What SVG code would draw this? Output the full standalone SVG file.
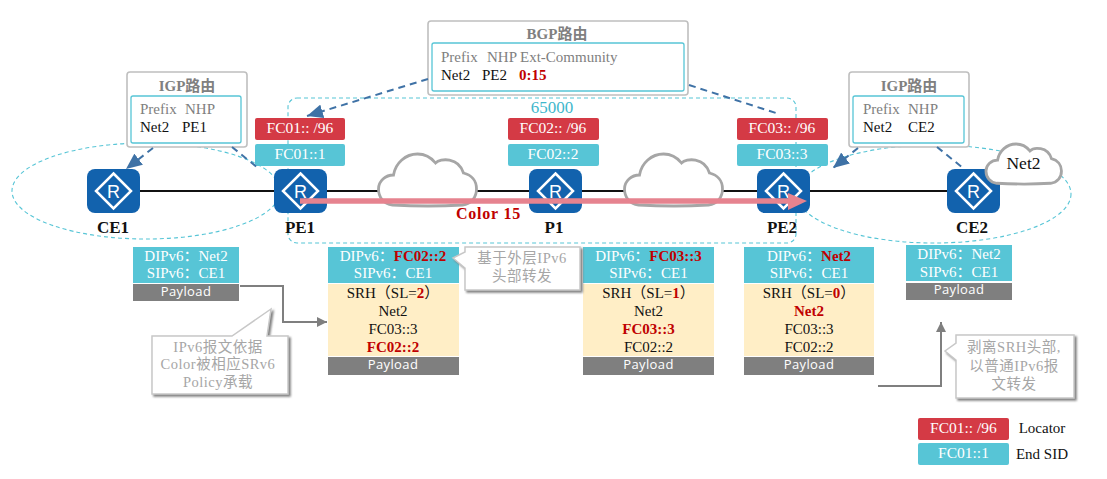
<svg xmlns="http://www.w3.org/2000/svg" xmlns:xlink="http://www.w3.org/1999/xlink" width="1107" height="479" viewBox="0 0 1107 479">
<style>
text{font-family:"Liberation Serif","Noto Sans CJK SC",serif;font-size:15px;text-anchor:middle;fill:#111}
.s{text-anchor:start}
.b{font-weight:bold}
.w{fill:#fff}
.chip{font-size:15.500px}
.g{fill:#808080}
.r{fill:#c00000;font-weight:bold}
.c{fill:#a6a6a6;font-size:14.500px;letter-spacing:.5px}
.pay{font-family:"Open Sans","Noto Sans",sans-serif;font-size:13px;fill:#fff;letter-spacing:.4px}
.lab{font-weight:bold;font-size:17px}
.red{fill:#d43a45}
.teal{fill:#57c5d6}
.cream{fill:#ffeec6}
.payb{fill:#7f7f7f}
.outer{fill:#fff;stroke:#bfbfbf;stroke-width:1.6}
.inner{fill:#fff;stroke:#57c5d6;stroke-width:1.3}
.tdash{fill:none;stroke:#57c5d6;stroke-width:1.1;stroke-dasharray:4 3}
.bdash{fill:none;stroke:#3f72a6;stroke-width:2;stroke-dasharray:7 5}
.call{fill:#fff;stroke:#c8c8c8;stroke-width:1.5;filter:url(#sh)}
.cloud{fill:#fff;stroke:#a6a6a6;stroke-width:2.800;vector-effect:non-scaling-stroke}
.elbow{fill:none;stroke:#7f7f7f;stroke-width:2}
</style>
<defs>
<filter id="sh" x="-10%" y="-10%" width="125%" height="125%"><feDropShadow dx="2" dy="2" stdDeviation="0.8" flood-color="#7f7f7f"/></filter>
<marker id="ah" markerUnits="userSpaceOnUse" markerWidth="18" markerHeight="14" refX="16" refY="7" orient="auto"><path d="M0 0L16 7L0 14Z" fill="#3f72a6"/></marker>
<marker id="ag" markerUnits="userSpaceOnUse" markerWidth="12" markerHeight="10" refX="10" refY="5" orient="auto"><path d="M0 0L10 5L0 10Z" fill="#7f7f7f"/></marker>
<g id="rt"><rect width="53" height="44" rx="8" fill="#1262ad"/><path d="M26.500 4.500L44 22L26.500 39.500L9 22Z" fill="none" stroke="#fff" stroke-width="2.5"/><text x="26.500" y="28.500" style="font-family:'Liberation Sans',sans-serif;font-size:18px;fill:#fff">R</text></g>
<path id="cl" class="cloud" d="M14 51C5 50 0 43 0 35C0 27 7 21 15 21C17 9 27 0 39 0C47 0 53 4 57 9C62 4 80 3 85 19C93 21 98 27 98 35C98 43 93 50 84 51Q50 53 14 51Z"/>
</defs>

<g id="areas">
<ellipse class="tdash" cx="146" cy="191" rx="134" ry="48"/>
<ellipse class="tdash" cx="934" cy="194" rx="137" ry="49"/>
<rect class="tdash" x="288" y="98" width="508" height="145" rx="9"/>
<text x="552" y="113" style="font-size:17px;fill:#3fb7cc">65000</text>
</g>

<g id="connectors">
<path d="M140 191H947" fill="none" stroke="#111" stroke-width="1.800"/>
</g>

<g id="cloud1"><use xlink:href="#cl" transform="translate(378.500 154)"/></g>
<g id="cloud2"><use xlink:href="#cl" transform="translate(624.500 154)"/></g>

<g id="igp1">
<rect class="outer" x="127" y="72" width="120" height="75" rx="3"/>
<rect class="inner" x="131" y="96" width="110" height="47" rx="2"/>
<text class="g b" x="187" y="91">IGP路由</text>
<text class="g s" x="140" y="114">Prefix</text><text class="g s" x="185" y="114">NHP</text>
<text class="s" x="140" y="132">Net2</text><text class="s" x="182" y="132">PE1</text>
</g>
<g id="bgp">
<rect class="outer" x="428" y="21" width="260" height="74" rx="3"/>
<rect class="inner" x="432" y="43" width="252" height="48" rx="2"/>
<text class="g b" x="557" y="39">BGP路由</text>
<text class="g s" x="441" y="62">Prefix</text><text class="g s" x="487" y="62">NHP</text><text class="g s" x="520" y="62">Ext-Community</text>
<text class="s" x="441" y="80">Net2</text><text class="s" x="482" y="80">PE2</text><text class="r s" x="519" y="80">0:15</text>
</g>
<g id="igp2">
<rect class="outer" x="849" y="72" width="120" height="75" rx="3"/>
<rect class="inner" x="853" y="96" width="111" height="47" rx="2"/>
<text class="g b" x="909" y="91">IGP路由</text>
<text class="g s" x="863" y="114">Prefix</text><text class="g s" x="908" y="114">NHP</text>
<text class="s" x="863" y="132">Net2</text><text class="s" x="908" y="132">CE2</text>
</g>

<g id="CE1"><use xlink:href="#rt" x="87" y="169"/><text class="lab" x="113" y="233">CE1</text></g>
<g id="PE1"><use xlink:href="#rt" x="274" y="169"/><text class="lab" x="300" y="233">PE1</text>
<rect class="red" x="255" y="118" width="90" height="22" rx="2"/><text class="w chip" x="300" y="133">FC01:: /96</text>
<rect class="teal" x="255" y="144" width="90" height="22" rx="2"/><text class="w chip" x="300" y="159">FC01::1</text></g>
<g id="P1"><use xlink:href="#rt" x="529" y="169"/><text class="lab" x="554" y="233">P1</text>
<rect class="red" x="508" y="118" width="91" height="22" rx="2"/><text class="w chip" x="553" y="133">FC02:: /96</text>
<rect class="teal" x="508" y="144" width="91" height="22" rx="2"/><text class="w chip" x="553" y="159">FC02::2</text></g>
<g id="PE2"><use xlink:href="#rt" x="757" y="169"/><text class="lab" x="782" y="233">PE2</text>
<rect class="red" x="737" y="118" width="91" height="22" rx="2"/><text class="w chip" x="782" y="133">FC03:: /96</text>
<rect class="teal" x="737" y="144" width="91" height="22" rx="2"/><text class="w chip" x="782" y="159">FC03::3</text></g>
<g id="CE2"><use xlink:href="#rt" x="947" y="169"/><text class="lab" x="972" y="233">CE2</text></g>
<g id="net2"><use xlink:href="#cl" transform="translate(986 144) scale(.77)"/><text x="1023.500" y="169" style="font-size:17.500px">Net2</text></g>

<g id="route-arrows">
<path class="bdash" d="M153 148L126 169" marker-end="url(#ah)"/>
<path class="bdash" d="M232 147L258 168"/>
<path class="bdash" d="M428 79L307 116" marker-end="url(#ah)"/>
<path class="bdash" d="M689 85L779 114"/>
<path class="bdash" d="M858 148L833 168" marker-end="url(#ah)"/>
<path class="bdash" d="M937 147L963 168"/>
</g>

<g id="policy">
<path d="M300 201H790" fill="none" stroke="#e6838f" stroke-width="5.500"/>
<path d="M788 193L807 201L788 210Z" fill="#e6838f"/>
<text class="r" x="488.500" y="219" style="font-size:16px;letter-spacing:.8px">Color 15</text>
</g>

<g id="pkt-ce1">
<rect class="teal" x="133" y="247" width="106" height="36"/>
<rect class="payb" x="133" y="284" width="106" height="17"/>
<text class="w" x="186" y="261">DIPv6：Net2</text><text class="w" x="186" y="278">SIPv6：CE1</text>
<text class="pay" x="186" y="296">Payload</text>
</g>
<g id="pkt-pe1">
<rect class="teal" x="328" y="247" width="131" height="36"/>
<rect class="cream" x="328" y="284" width="131" height="72"/>
<rect class="payb" x="328" y="357" width="131" height="18"/>
<text class="w" x="393" y="261">DIPv6：<tspan class="r">FC02::2</tspan></text><text class="w" x="393" y="278">SIPv6：CE1</text>
<text x="393" y="298">SRH（SL=<tspan class="r">2</tspan>）</text><text x="393" y="316">Net2</text><text x="393" y="334">FC03::3</text><text class="r" x="393" y="352">FC02::2</text>
<text class="pay" x="393" y="369">Payload</text>
</g>
<g id="pkt-p1">
<rect class="teal" x="583" y="247" width="131" height="36"/>
<rect class="cream" x="583" y="284" width="131" height="72"/>
<rect class="payb" x="583" y="357" width="131" height="18"/>
<text class="w" x="648.500" y="261">DIPv6：<tspan class="r">FC03::3</tspan></text><text class="w" x="648.500" y="278">SIPv6：CE1</text>
<text x="648.500" y="298">SRH（SL=<tspan class="r">1</tspan>）</text><text x="648.500" y="316">Net2</text><text class="r" x="648.500" y="334">FC03::3</text><text x="648.500" y="352">FC02::2</text>
<text class="pay" x="648.500" y="369">Payload</text>
</g>
<g id="pkt-pe2">
<rect class="teal" x="744" y="247" width="130" height="36"/>
<rect class="cream" x="744" y="284" width="130" height="72"/>
<rect class="payb" x="744" y="357" width="130" height="18"/>
<text class="w" x="809" y="261">DIPv6：<tspan class="r">Net2</tspan></text><text class="w" x="809" y="278">SIPv6：CE1</text>
<text x="809" y="298">SRH（SL=<tspan class="r">0</tspan>）</text><text class="r" x="809" y="316">Net2</text><text x="809" y="334">FC03::3</text><text x="809" y="352">FC02::2</text>
<text class="pay" x="809" y="369">Payload</text>
</g>
<g id="pkt-ce2">
<rect class="teal" x="906" y="245" width="106" height="36"/>
<rect class="payb" x="906" y="283" width="106" height="17"/>
<text class="w" x="959" y="259">DIPv6：Net2</text><text class="w" x="959" y="277">SIPv6：CE1</text>
<text class="pay" x="959" y="294">Payload</text>
</g>

<g id="flow-arrows">
<path class="elbow" d="M240 286H283V322H327" marker-end="url(#ag)"/>
<path class="elbow" d="M878 386H941V322" marker-end="url(#ag)"/>
</g>

<g id="callout-color">
<path class="call" d="M152 336H232L271 309L267 336H288V394H152Z"/>
<text class="c" x="218" y="352">IPv6报文依据</text><text class="c" x="218" y="369">Color被相应SRv6</text><text class="c" x="218" y="387">Policy承载</text>
</g>
<g id="callout-outer">
<path class="call" d="M465 247H580V290H465V268L453 258L465 252Z"/>
<text class="c" x="522" y="263">基于外层IPv6</text><text class="c" x="522" y="281">头部转发</text>
</g>
<g id="callout-strip">
<path class="call" d="M956 335H1074V398H956V360L945 351L956 343Z"/>
<text class="c" x="1014" y="352">剥离SRH头部,</text><text class="c" x="1014" y="371">以普通IPv6报</text><text class="c" x="1014" y="389">文转发</text>
</g>

<g id="legend">
<rect class="red" x="918" y="418" width="91" height="22" rx="2"/><text class="w chip" x="963.500" y="432.500">FC01:: /96</text>
<rect class="teal" x="918" y="443" width="91" height="22" rx="2"/><text class="w chip" x="963.500" y="458">FC01::1</text>
<text x="1042" y="432.500">Locator</text><text x="1042" y="459">End SID</text>
</g>
</svg>
